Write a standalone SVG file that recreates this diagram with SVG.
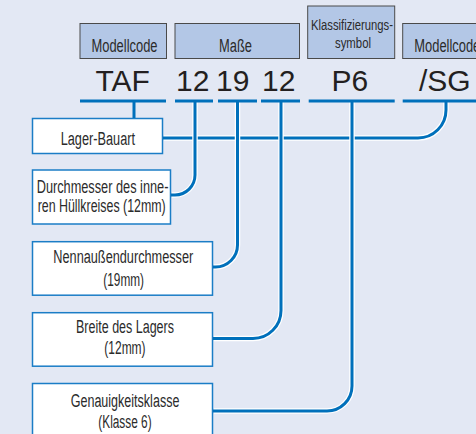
<svg xmlns="http://www.w3.org/2000/svg" width="476" height="434" viewBox="0 0 476 434">
<style>
.hdr{fill:#b3c7e6;stroke:#4a4a4a;stroke-width:1}
.box{fill:#ffffff;stroke:#1b7dc6;stroke-width:1.5}
.lbl{font-family:"Liberation Sans Narrow","Liberation Sans",Arial,sans-serif;font-size:18px;fill:#2b2b2b}
.sm{font-size:15.5px}
.big{font-family:"Liberation Sans",Arial,sans-serif;font-size:30px;fill:#231f20}
.halo{fill:none;stroke:#ffffff;stroke-width:5.5}
.ln{fill:none;stroke:#0070bb;stroke-width:3}
</style>
<rect width="476" height="434" fill="#e3e8f4"/>
<g id="hdr-modellcode1"><rect class="hdr" x="80" y="23.5" width="86.5" height="35"/><text class="lbl" x="91.5" y="51.5" textLength="66" lengthAdjust="spacingAndGlyphs">Modellcode</text></g>
<g id="hdr-masse"><rect class="hdr" x="175" y="23.5" width="124.5" height="35"/><text class="lbl" x="219" y="51.5" textLength="33" lengthAdjust="spacingAndGlyphs">Maße</text></g>
<g id="hdr-klass"><rect class="hdr" x="307.7" y="6" width="87" height="52.5"/><text class="lbl sm" x="311" y="29.5" textLength="82" lengthAdjust="spacingAndGlyphs">Klassifizierungs-</text><text class="lbl sm" x="335" y="48.3" textLength="36" lengthAdjust="spacingAndGlyphs">symbol</text></g>
<g id="hdr-modellcode2"><rect class="hdr" x="402.7" y="23.5" width="90" height="35"/><text class="lbl" x="414.3" y="51.5" textLength="66" lengthAdjust="spacingAndGlyphs">Modellcode</text></g>
<g id="code"><text class="big" x="95.5" y="90.5">TAF</text><text class="big" x="176" y="90.5">12</text><text class="big" x="216" y="90.5">19</text><text class="big" x="262" y="90.5">12</text><text class="big" x="331.5" y="90.5">P6</text><text class="big" x="419" y="90.5">/SG</text></g>
<g id="box-lager"><rect class="box" x="32.5" y="118.5" width="130" height="35"/><text class="lbl" x="60.7" y="145" textLength="74.3" lengthAdjust="spacingAndGlyphs">Lager-Bauart</text></g>
<g id="box-durchmesser"><rect class="box" x="32.5" y="170" width="138" height="54"/><text class="lbl" x="36.7" y="192.8" textLength="131.7" lengthAdjust="spacingAndGlyphs">Durchmesser des inne-</text><text class="lbl" x="37.7" y="211.7" textLength="128" lengthAdjust="spacingAndGlyphs">ren Hüllkreises (12mm)</text></g>
<g id="box-nenn"><rect class="box" x="32.5" y="241.7" width="180" height="53.5"/><text class="lbl" x="53.3" y="263.3" textLength="140" lengthAdjust="spacingAndGlyphs">Nennaußendurchmesser</text><text class="lbl" x="103.3" y="286" textLength="40.7" lengthAdjust="spacingAndGlyphs">(19mm)</text></g>
<g id="box-breite"><rect class="box" x="32.5" y="312.7" width="180" height="53.5"/><text class="lbl" x="76" y="332.7" textLength="98" lengthAdjust="spacingAndGlyphs">Breite des Lagers</text><text class="lbl" x="104.3" y="354" textLength="41.3" lengthAdjust="spacingAndGlyphs">(12mm)</text></g>
<g id="box-genau"><rect class="box" x="32.5" y="383.5" width="180" height="60"/><text class="lbl" x="70.7" y="407.3" textLength="108.7" lengthAdjust="spacingAndGlyphs">Genauigkeitsklasse</text><text class="lbl" x="98.3" y="428.3" textLength="53.3" lengthAdjust="spacingAndGlyphs">(Klasse 6)</text></g>
<g id="connectors">
<path class="halo" d="M164,138 H418 A28,28 0 0 0 446,110 V101"/>
<path class="ln" d="M163,138 H418 A28,28 0 0 0 446,110 V101"/>
<path class="ln" d="M134,101 V118"/>
<path class="halo" d="M195,101 V175 A20,20 0 0 1 175,195 H172"/>
<path class="ln" d="M195,101 V175 A20,20 0 0 1 175,195 H171"/>
<path class="halo" d="M237.5,101 V245 A22,22 0 0 1 215.5,267 H214"/>
<path class="ln" d="M237.5,101 V245 A22,22 0 0 1 215.5,267 H213"/>
<path class="halo" d="M281,101 V310.5 A28,28 0 0 1 253,338.5 H214"/>
<path class="ln" d="M281,101 V310.5 A28,28 0 0 1 253,338.5 H213"/>
<path class="halo" d="M352,101 V386 A25,25 0 0 1 327,411 H214"/>
<path class="ln" d="M352,101 V386 A25,25 0 0 1 327,411 H213"/>
<path class="ln" d="M80,101 H166 M175,101 H213 M218,101 H257 M261,101 H300 M308.7,101 H394.7 M402.7,101 H490"/>
</g>
</svg>
